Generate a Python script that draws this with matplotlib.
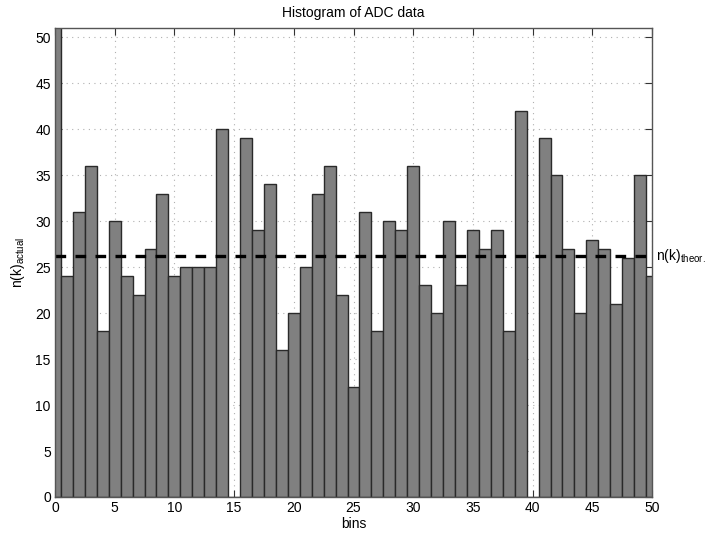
import matplotlib
matplotlib.use("Agg")
import matplotlib.pyplot as plt
import numpy as np

# histogram counts, one per bin centre 0..50 (bin 0 is clipped at the top)
bins = list(range(51))
counts = [56, 24, 31, 36, 18, 30, 24, 22, 27, 33,
          24, 25, 25, 25, 40, 0, 39, 29, 34, 16,
          20, 25, 33, 36, 22, 12, 31, 18, 30, 29,
          36, 23, 20, 30, 23, 29, 27, 29, 18, 42,
          0, 39, 35, 27, 20, 28, 27, 21, 26, 35,
          24]
n_theor = 26.25

plt.rcParams['font.family'] = ['Liberation Sans', 'DejaVu Sans']
plt.rcParams['font.size'] = 10

fig = plt.figure(figsize=(7.05, 5.33), dpi=100)
ax = fig.add_axes([55 / 705, 1 - 497 / 533, 597 / 705, 469 / 533])

# the bars
ax.bar(bins, counts, width=1.0, color='#808080', edgecolor='#2a2a2a', linewidth=1.0, zorder=2)

# theoretical level
ax.axhline(n_theor, color='black', linewidth=2.4, dashes=(3.2, 2.8), zorder=3)
ax.text(50.3, n_theor, r'n(k)$\mathregular{_{theor.}}$', va='center', ha='left', fontsize=10)

ax.set_xlim(0, 50)
ax.set_ylim(0, 51)
ax.set_xticks(range(0, 51, 5))
ax.set_yticks(range(0, 51, 5))
ax.tick_params(direction='in', top=True, right=True, length=5, width=0.8, colors='#333333',
               labelcolor='black', pad=3)
ax.grid(True, linestyle=(0, (1, 4)), color='#b0b0b0', linewidth=0.8, zorder=0)
ax.set_axisbelow(True)
for s in ax.spines.values():
    s.set_color('#555555')
    s.set_linewidth(1.0)
    s.set_zorder(4)

ax.set_title('Histogram of ADC data', fontsize=10, pad=8)
ax.set_xlabel('bins', fontsize=10, labelpad=1)
ax.set_ylabel(r'n(k)$\mathregular{_{actual}}$', fontsize=10, labelpad=6)

fig.savefig('out.png', dpi=100)
